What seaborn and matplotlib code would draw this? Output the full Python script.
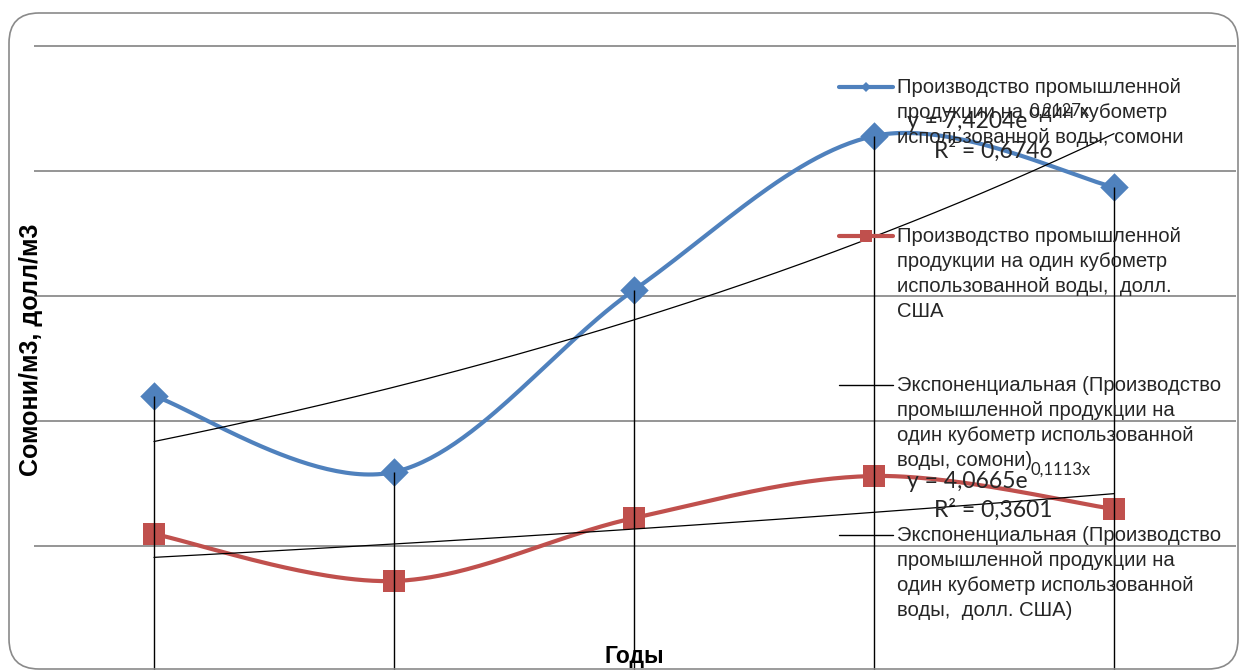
import numpy as np
import pandas as pd
import matplotlib
matplotlib.use("Agg")
import matplotlib.pyplot as plt
from matplotlib.lines import Line2D
from matplotlib.patches import FancyBboxPatch
from matplotlib.transforms import IdentityTransform
import seaborn as sns

# --- data -------------------------------------------------------------
periods = [1, 2, 3, 4, 5]
somoni_per_m3 = [11.0, 7.96, 15.24, 21.4, 19.36]   # сомони на 1 м3 воды
usd_per_m3 = [5.48, 3.6, 6.12, 7.8, 6.48]           # долл. США на 1 м3 воды

# exponential trend coefficients  y = a * exp(b * x)
trend_somoni = [7.4204, 0.2127]
trend_usd = [4.0665, 0.1113]
r2_values = ["0,6746", "0,3601"]

legend_labels = [
    "Производство промышленной\nпродукции на один кубометр\nиспользованной воды, сомони",
    "Производство промышленной\nпродукции на один кубометр\nиспользованной воды,  долл.\nСША",
    "Экспоненциальная (Производство\nпромышленной продукции на\nодин кубометр использованной\nводы, сомони)",
    "Экспоненциальная (Производство\nпромышленной продукции на\nодин кубометр использованной\nводы,  долл. США)",
]
y_title = "Сомони/м3, долл/м3"
x_title = "Годы"

BLUE = "#4F81BD"
RED = "#C0504D"
TEXT = "#262626"

sns.set_theme(style="white")
plt.rcParams["font.family"] = ["Liberation Sans", "DejaVu Sans"]

W, H = 1241, 670
fig = plt.figure(figsize=(W / 100, H / 100), dpi=100)
fig.patch.set_facecolor("white")


def fx(px):
    return px / W


def fy(py):
    return 1 - py / H


# plot area: x from 34 px to 1236 px, y from 44 px down to 671 px
ax = fig.add_axes([fx(34), fy(671), fx(1236) - fx(34), fy(44) - fy(671)])
ax.set_xlim(0.5, 5.5 + 2 / 240)
ax.set_ylim(0, 25.08)
ax.set_facecolor("none")
for s in ax.spines.values():
    s.set_visible(False)
ax.set_yticks([5, 10, 15, 20, 25])
ax.set_xticks([])
ax.tick_params(left=False, bottom=False, labelleft=False, labelbottom=False)
ax.grid(axis="y", color="#8c8c8c", linewidth=1.3)
ax.set_xlabel("")
ax.set_ylabel("")


def smooth(xs, ys, n=60):
    """Bezier smoothing of a polyline (control points at 1/6 of neighbour span)."""
    pts = np.column_stack([xs, ys]).astype(float)
    ext = np.vstack([pts[0], pts, pts[-1]])
    out = []
    for i in range(len(pts) - 1):
        p0, p3 = ext[i + 1], ext[i + 2]
        p1 = p0 + (ext[i + 2] - ext[i]) / 6
        p2 = p3 - (ext[i + 3] - ext[i + 1]) / 6
        t = np.linspace(0, 1, n)[:, None]
        seg = ((1 - t) ** 3) * p0 + 3 * ((1 - t) ** 2) * t * p1 + 3 * (1 - t) * t ** 2 * p2 + t ** 3 * p3
        out.append(seg if i == 0 else seg[1:])
    c = np.vstack(out)
    return c[:, 0], c[:, 1]


# smoothed series
for vals, col in [(somoni_per_m3, BLUE), (usd_per_m3, RED)]:
    sx, sy = smooth(periods, vals)
    curve = pd.DataFrame({"x": sx, "y": sy})
    sns.lineplot(data=curve, x="x", y="y", sort=False, ax=ax, color=col,
                 linewidth=3.0, estimator=None, zorder=3)

sns.scatterplot(x=periods, y=somoni_per_m3, ax=ax, marker="D", s=210,
                color=BLUE, edgecolor=BLUE, linewidth=0, zorder=4)
sns.scatterplot(x=periods, y=usd_per_m3, ax=ax, marker="s", s=230,
                color=RED, edgecolor=RED, linewidth=0, zorder=4)

# exponential trendlines
tx = np.linspace(periods[0], periods[-1], 200)
for a, b in (trend_somoni, trend_usd):
    sns.lineplot(x=tx, y=a * np.exp(b * tx), ax=ax, color="black",
                 linewidth=0.9, zorder=5)

# drop lines from the highest point to the category axis
tops = np.maximum(somoni_per_m3, usd_per_m3)
ax.vlines(periods, 0, tops, color="black", linewidth=1.0, zorder=6)

# trendline equations
eq_font = ["Lato", "DejaVu Sans"]
for (a, b), r2, ycen in [(trend_somoni, r2_values[0], 122), (trend_usd, r2_values[1], 481)]:
    base = f"y = {a:.4f}e".replace(".", ",")
    t = fig.text(fx(907), fy(ycen), base, fontsize=16.5, family=eq_font,
                 color=TEXT, va="center", ha="left", zorder=10)
    fig.canvas.draw()
    bb = t.get_window_extent()
    fig.text(bb.x1 / W + 0.002, fy(ycen - 11), f"{b:.4f}x".replace(".", ","),
             fontsize=12, family=eq_font, color=TEXT, va="center", ha="left", zorder=10)
    fig.text(fx(934), fy(ycen + 29), f"R² = {r2}", fontsize=16.5, family=eq_font,
             color=TEXT, va="center", ha="left", zorder=10)

# legend
leg_y = [87, 236, 385, 535]
handles = [
    dict(color=BLUE, lw=3.0, marker="D", ms=5),
    dict(color=RED, lw=3.0, marker="s", ms=8),
    dict(color="black", lw=1.0, marker=None, ms=0),
    dict(color="black", lw=1.0, marker=None, ms=0),
]
for label, yc, h in zip(legend_labels, leg_y, handles):
    fig.add_artist(Line2D([fx(839), fx(893)], [fy(yc), fy(yc)], color=h["color"],
                          linewidth=h["lw"], transform=fig.transFigure, zorder=10))
    if h["marker"]:
        fig.add_artist(Line2D([fx(866)], [fy(yc)], color=h["color"], marker=h["marker"],
                              markersize=h["ms"], markeredgewidth=0,
                              transform=fig.transFigure, zorder=10))
    fig.text(fx(897), fy(yc - 9), label, fontsize=14.6, color=TEXT,
             va="top", ha="left", linespacing=1.4, zorder=10)

# axis titles
fig.text(fx(31), fy(350), y_title, rotation=90, fontsize=18, fontweight="bold",
         color="black", va="center", ha="center")
fig.text(fx(634), fy(657), x_title, fontsize=16.5, fontweight="bold",
         color="black", va="center", ha="center")

# chart border with rounded corners
border = FancyBboxPatch((9, 1), 1229, 656, boxstyle="round,pad=0,rounding_size=30",
                        transform=IdentityTransform(), facecolor="none",
                        edgecolor="#8a8a8a", linewidth=1.2, zorder=20)
fig.add_artist(border)

fig.savefig("out.png", dpi=100, facecolor="white")
